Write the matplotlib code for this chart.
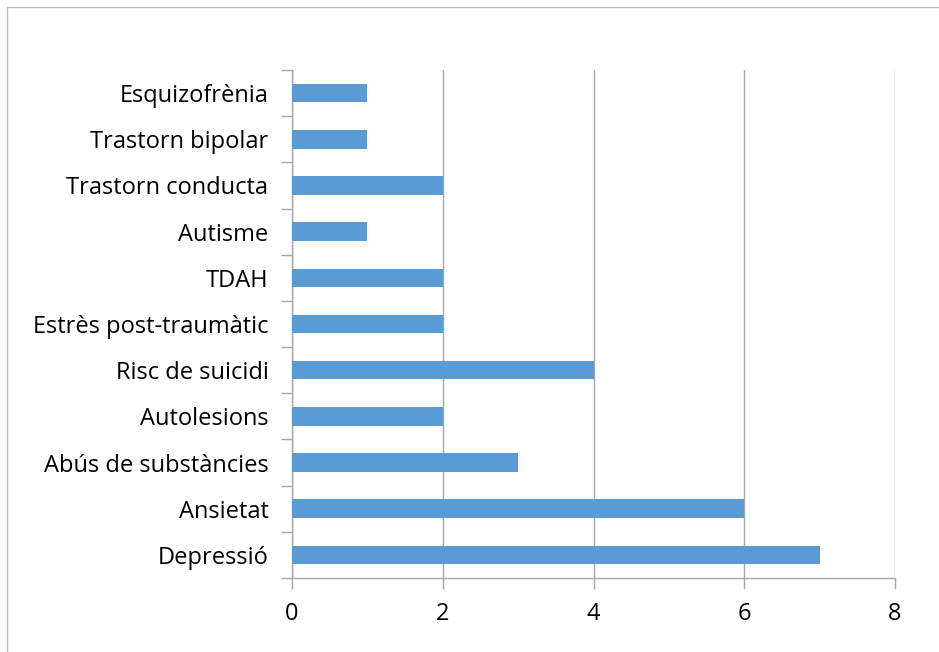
import numpy as np
import matplotlib.pyplot as plt
from matplotlib.lines import Line2D

# categories, from bottom to top
categories = ['Depressió', 'Ansietat', 'Abús de substàncies', 'Autolesions',
              'Risc de suicidi', 'Estrès post-traumàtic', 'TDAH', 'Autisme',
              'Trastorn conducta', 'Trastorn bipolar', 'Esquizofrènia']
values = [7, 6, 3, 2, 4, 2, 2, 1, 2, 1, 1]
xticks = [0, 2, 4, 6, 8]

plt.rcParams['font.family'] = ['Open Sans', 'DejaVu Sans']

fig = plt.figure(figsize=(9.39, 6.52), dpi=100)
ax = fig.add_axes([292 / 939, 1 - 578 / 652, (895 - 292) / 939, (578 - 70) / 652])

y = np.arange(len(categories))
ax.barh(y, values, height=0.4, color='#5B9BD5', zorder=3)

ax.set_xlim(0, 8)
ax.set_ylim(-0.5, len(categories) - 0.5)
ax.set_xticks(xticks)
ax.set_xticklabels([str(v) for v in xticks], fontsize=17)
ax.set_yticks(y)
ax.set_yticklabels(categories, fontsize=17)
ax.set_yticks(np.arange(-0.5, len(categories), 1), minor=True)

ax.tick_params(axis='y', which='major', length=0, pad=17)
ax.tick_params(axis='y', which='minor', length=8, color='#A6A6A6', width=1)
ax.tick_params(axis='x', length=8, color='#A6A6A6', width=1, pad=9)

ax.grid(axis='x', color='#A6A6A6', linewidth=1, zorder=0)
for s in ['top', 'right']:
    ax.spines[s].set_visible(False)
for s in ['left', 'bottom']:
    ax.spines[s].set_color('#A6A6A6')
    ax.spines[s].set_linewidth(1)

# chart area border (top and left visible)
fig.add_artist(Line2D([7 / 939, 1], [1 - 7 / 652, 1 - 7 / 652], color='#BFBFBF', lw=1))
fig.add_artist(Line2D([7 / 939, 7 / 939], [0, 1 - 7 / 652], color='#BFBFBF', lw=1))

fig.savefig('out.png', dpi=100)
